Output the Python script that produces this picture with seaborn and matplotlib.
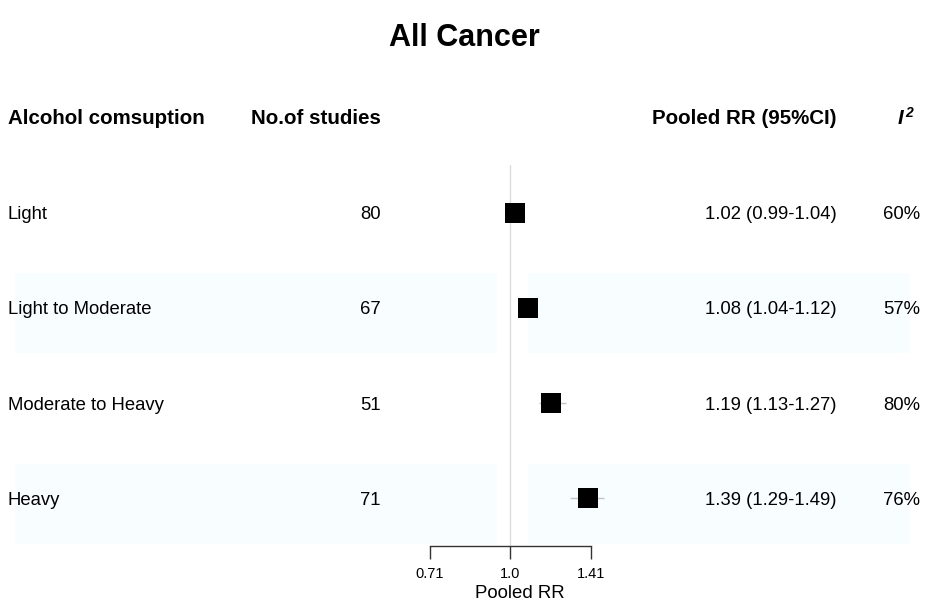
import matplotlib
matplotlib.use("Agg")
import matplotlib.pyplot as plt
from matplotlib.patches import Rectangle
import seaborn as sns
import pandas as pd
import numpy as np

# ---- data ----
title = "All Cancer"
categories = ["Light", "Light to Moderate", "Moderate to Heavy", "Heavy"]
n_studies = [80, 67, 51, 71]
rr = [1.02, 1.08, 1.19, 1.39]
ci_low = [0.99, 1.04, 1.13, 1.29]
ci_high = [1.04, 1.12, 1.27, 1.49]
i2 = ["60%", "57%", "80%", "76%"]
xticks = [0.71, 1.0, 1.41]
xtick_labels = ["0.71", "1.0", "1.41"]
headers = ["Alcohol comsuption", "No.of studies", "Pooled RR (95%CI)"]

df = pd.DataFrame({"cat": categories, "n": n_studies, "rr": rr,
                   "lo": ci_low, "hi": ci_high, "i2": i2})
df["row"] = np.arange(len(df))
df["label"] = [f"{a:.2f} ({b:.2f}-{c:.2f})" for a, b, c in zip(rr, ci_low, ci_high)]

sns.set_theme(style="white")
plt.rcParams["font.family"] = ["Liberation Sans", "DejaVu Sans"]
plt.rcParams["text.color"] = "black"
plt.rcParams["axes.labelcolor"] = "black"
plt.rcParams["xtick.color"] = "black"

W, H = 929, 606
fig = plt.figure(figsize=(W / 100, H / 100), dpi=100)
fig.patch.set_facecolor("white")

def fx(px):
    return px / W

def fy(py):
    return 1 - py / H

# background axes in pixel space for row shading
bg = fig.add_axes([0, 0, 1, 1], zorder=0)
bg.set_xlim(0, W)
bg.set_ylim(H, 0)
bg.axis("off")
band_color = "#f8fdff"
row_px = [212, 307, 403, 498]
for i, yc in enumerate(row_px):
    if i % 2 == 1:
        top = yc - 34
        bg.add_patch(Rectangle((15, top), 497 - 15, 80, color=band_color, lw=0))
        bg.add_patch(Rectangle((528, top), 910 - 528, 80, color=band_color, lw=0))

# forest axes
x_left_px, x_right_px = 420, 620
y_top_px, y_bot_px = 165, 546
slope = (591 - 430) / (np.log(1.41) - np.log(0.71))
px1 = 430 + slope * (0 - np.log(0.71))
xmin = np.exp((x_left_px - px1) / slope)
xmax = np.exp((x_right_px - px1) / slope)

ax = fig.add_axes([fx(x_left_px), fy(y_bot_px), (x_right_px - x_left_px) / W,
                   (y_bot_px - y_top_px) / H], zorder=2)
ax.patch.set_alpha(0)
ax.set_xscale("log")
ax.set_xlim(xmin, xmax)
ax.set_ylim(len(df) - 0.5, -0.5)

ax.axvline(1.0, color="#dcdcdc", lw=1.0, zorder=1)
ax.hlines(df["row"], df["lo"], df["hi"], color="#c4c4c4", lw=1.0, zorder=2)
sns.scatterplot(data=df, x="rr", y="row", marker="s", s=205, color="black",
                edgecolor="none", ax=ax, legend=False, zorder=3)

for s in ["top", "right", "left"]:
    ax.spines[s].set_visible(False)
ax.spines["bottom"].set_bounds(0.71, 1.41)
ax.spines["bottom"].set_color("#333333")
ax.spines["bottom"].set_linewidth(1.0)
ax.set_yticks([])
ax.set_xticks(xticks)
ax.set_xticklabels(xtick_labels, fontsize=10.5, color="black")
ax.xaxis.set_minor_locator(matplotlib.ticker.NullLocator())
ax.tick_params(axis="x", bottom=True, length=9, width=1.0, color="#333333",
               pad=6, direction="out")
ax.set_xlabel("Pooled RR", fontsize=13.4, color="black", labelpad=3)
ax.set_ylabel("")

# title
fig.text(fx(464), fy(46), title, ha="center", va="baseline",
         fontsize=22, fontweight="bold", color="black")

# headers
hb = 124
fig.text(fx(8), fy(hb), headers[0], ha="left", va="baseline",
         fontsize=14.8, fontweight="bold")
fig.text(fx(381), fy(hb), headers[1], ha="right", va="baseline",
         fontsize=14.8, fontweight="bold")
fig.text(fx(837), fy(hb), headers[2], ha="right", va="baseline",
         fontsize=14.8, fontweight="bold")
fig.text(fx(898), fy(hb), "I", ha="left", va="baseline",
         fontsize=14.8, fontweight="bold", style="italic")
fig.text(fx(905), fy(hb - 7), "2", ha="left", va="baseline",
         fontsize=10, fontweight="bold", style="italic")

# rows
for i, r in df.iterrows():
    b = row_px[i] + 6.6
    fig.text(fx(8), fy(b), r["cat"], ha="left", va="baseline", fontsize=13.3)
    fig.text(fx(381), fy(b), str(r["n"]), ha="right", va="baseline", fontsize=13.3)
    fig.text(fx(837), fy(b), r["label"], ha="right", va="baseline", fontsize=13.3)
    fig.text(fx(920), fy(b), r["i2"], ha="right", va="baseline", fontsize=13.3)

fig.savefig("out.png", dpi=100, facecolor="white")
